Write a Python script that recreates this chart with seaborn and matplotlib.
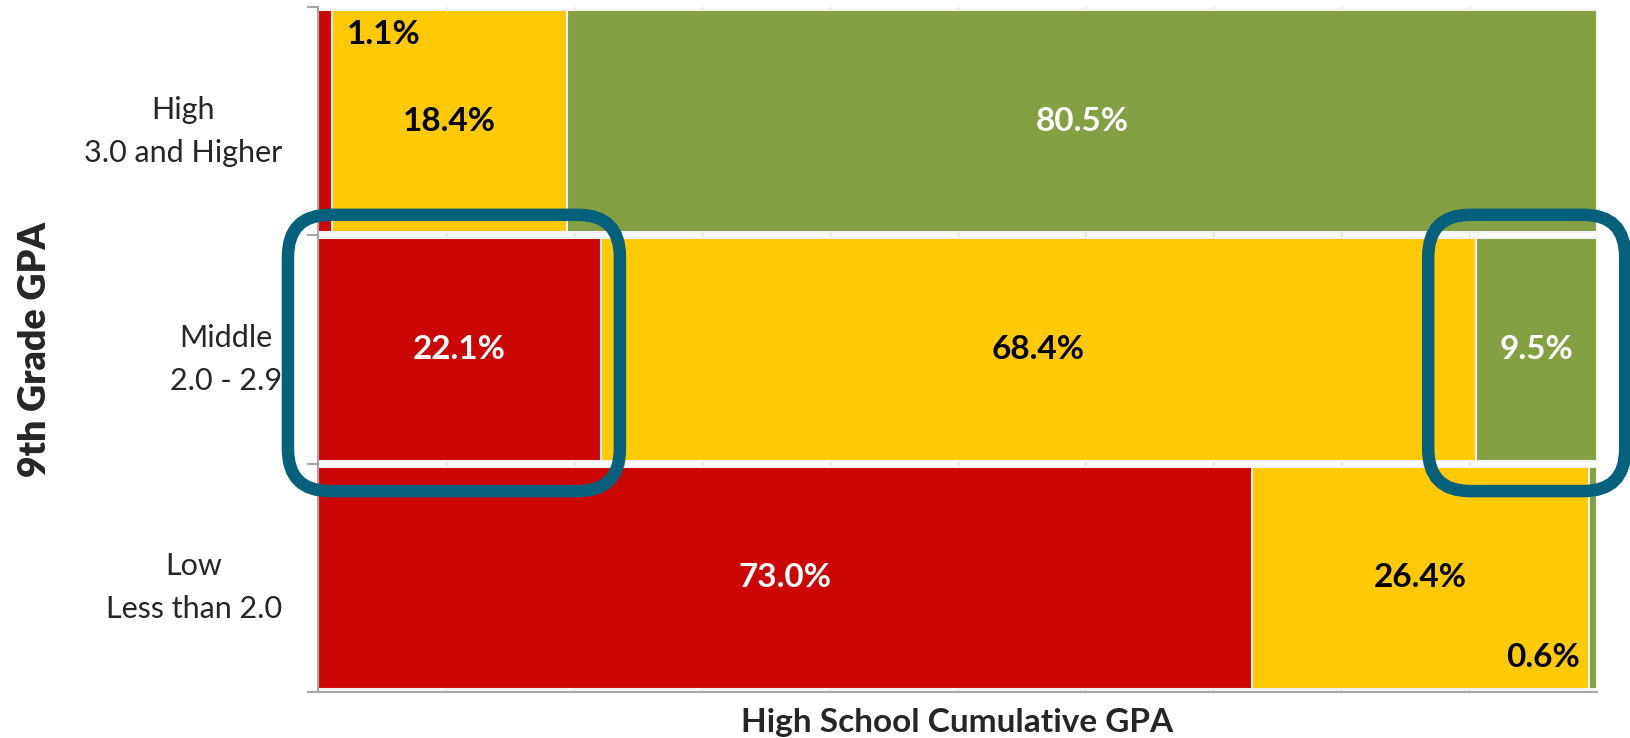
import numpy as np
import pandas as pd
import seaborn as sns
import matplotlib.pyplot as plt
from matplotlib.patches import FancyBboxPatch

# data (percent of students)
categories = ['High\n3.0 and Higher', 'Middle\n2.0 - 2.9', 'Low\nLess than 2.0']
red_pct = [1.1, 22.1, 73.0]
yellow_pct = [18.4, 68.4, 26.4]
green_pct = [80.5, 9.5, 0.6]

RED = '#CC0605'
YELLOW = '#FFCA05'
GREEN = '#84A043'
TEAL = '#05617B'

sns.set_style('white')
plt.rcParams['font.family'] = ['Lato', 'DejaVu Sans']

df = pd.DataFrame({'cat': categories, 'red': red_pct, 'yellow': yellow_pct, 'green': green_pct})
df['cum_yellow'] = df['red'] + df['yellow']
df['cum_green'] = df['cum_yellow'] + df['green']

fig = plt.figure(figsize=(16.3, 7.38), dpi=100)
ax = fig.add_axes([0.1951, 0.0623, 0.9798 - 0.1951, 0.9905 - 0.0623])

# stacked bars by overlaying cumulative totals
for col, color in [('cum_green', GREEN), ('cum_yellow', YELLOW), ('red', RED)]:
    sns.barplot(data=df, x=col, y='cat', color=color, saturation=1, orient='h',
                width=0.975, edgecolor='#f2f2f2', linewidth=1.5, ax=ax, zorder=2)

ax.set_xlim(0, 100)
ax.set_ylim(2.5, -0.5)
ax.set_xticks(np.arange(0, 101, 10))
ax.set_xticklabels([])
ax.tick_params(axis='x', length=0)
ax.xaxis.grid(True, color='#d9d9d9', linewidth=1)
ax.yaxis.grid(False)
ax.set_axisbelow(True)

# y ticks: labels at centres, tick marks at band boundaries
ax.set_yticks(range(len(categories)))
ax.set_yticklabels(categories, fontsize=22, linespacing=1.65)
for lbl in ax.get_yticklabels():
    lbl.set_multialignment('center')
ax.tick_params(axis='y', which='major', length=0, pad=26)
ax.set_yticks([-0.5, 0.5, 1.5, 2.5], minor=True)
ax.tick_params(axis='y', which='minor', length=8, color='#a6a6a6', width=1.5, left=True)

for side in ['top', 'right']:
    ax.spines[side].set_visible(False)
for side in ['left', 'bottom']:
    ax.spines[side].set_color('#a6a6a6')
    ax.spines[side].set_linewidth(1.5)

ax.set_ylabel('9th Grade GPA', fontsize=27, fontweight='heavy')
ax.yaxis.label.set_va('center')
ax.yaxis.set_label_coords(-0.221, 0.5)
ax.set_xlabel('High School Cumulative GPA', fontsize=24, fontweight='bold')
ax.xaxis.label.set_va('center')
ax.xaxis.set_label_coords(0.5, -0.045)

# value labels
for i, row in df.iterrows():
    segs = [(0, row['red'], 'white'),
            (row['red'], row['yellow'], 'black'),
            (row['cum_yellow'], row['green'], 'white')]
    for start, val, tcolor in segs:
        if val >= 5:
            ax.text(start + val / 2, i, f'{val:.1f}%', ha='center', va='center',
                    fontsize=24, fontweight='bold', color=tcolor, zorder=5)

# tiny segments labelled off-centre
ax.text(df['red'][0] + 4.0, -0.38, f"{df['red'][0]:.1f}%", ha='center', va='center',
        fontsize=24, fontweight='bold', color='black', zorder=5)
ax.text(100 - 4.2, 2.35, f"{df['green'][2]:.1f}%", ha='center', va='center',
        fontsize=24, fontweight='bold', color='black', zorder=5)

# rounded highlight boxes around the middle row extremes
def data_to_inches(x, y):
    px = ax.transData.transform((x, y))
    return px / fig.dpi

def highlight(x0, x1, y0, y1):
    (ax0, ay0) = data_to_inches(x0, y1)
    (ax1, ay1) = data_to_inches(x1, y0)
    box = FancyBboxPatch((ax0, ay0), ax1 - ax0, ay1 - ay0,
                         boxstyle='round,pad=0,rounding_size=0.42',
                         transform=fig.dpi_scale_trans, fill=False,
                         edgecolor=TEAL, linewidth=9, zorder=10, clip_on=False)
    fig.add_artist(box)

highlight(-2.35, red_pct[1] + 1.5, 0.41, 1.62)
highlight(100 - green_pct[1] - 3.7, 102.2, 0.41, 1.62)

fig.savefig('out.png', dpi=100)
